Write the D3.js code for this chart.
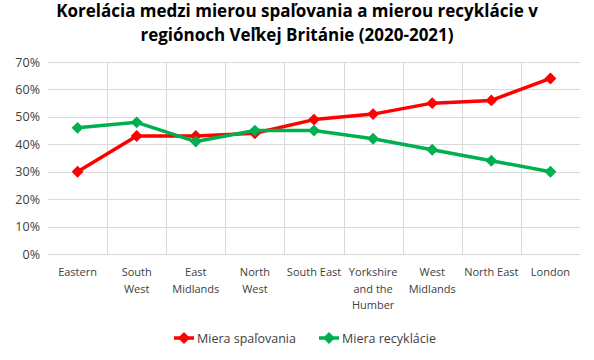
<!DOCTYPE html>
<html><head><meta charset="utf-8">
<script src="https://cdn.jsdelivr.net/npm/d3@7"></script>
<style>body{margin:0;background:#fff}svg{display:block}</style>
</head><body>
<svg id="c" width="594" height="360"></svg>
<script>
const categories = [["Eastern"],["South","West"],["East","Midlands"],["North","West"],["South East"],["Yorkshire","and the","Humber"],["West","Midlands"],["North East"],["London"]];
const incineration = [0.30,0.43,0.43,0.44,0.49,0.51,0.55,0.56,0.64];
const recycling = [0.46,0.48,0.41,0.45,0.45,0.42,0.38,0.34,0.30];
const yTicks = [0,0.1,0.2,0.3,0.4,0.5,0.6,0.7];
const seriesNames = ["Miera spaľovania","Miera recyklácie"];
const colors = ["#ff0000","#00b050"];
const titleLines = ["Korelácia medzi mierou spaľovania a mierou recyklácie v","regiónoch Veľkej Británie (2020-2021)"];

const svg = d3.select("#c");
const font = "'Open Sans', sans-serif";
const L=48,R=580,T=62,B=254;
const x = d3.scaleBand().domain(d3.range(categories.length)).range([L,R]);
const y = d3.scaleLinear().domain([0,0.7]).range([B,T]);

svg.selectAll(".t").data(titleLines).enter().append("text")
  .attr("x",297).attr("y",(d,i)=>17+i*24).attr("text-anchor","middle")
  .attr("font-family",font).attr("font-weight","bold").attr("font-size",17).attr("fill","#000").text(d=>d);

// grid
const g = svg.append("g");
g.selectAll(".h").data(yTicks).enter().append("line")
  .attr("x1",L).attr("x2",R).attr("y1",d=>Math.round(y(d))+0.5).attr("y2",d=>Math.round(y(d))+0.5)
  .attr("stroke","#d9d9d9").attr("stroke-width",1);
g.selectAll(".v").data(d3.range(1,categories.length)).enter().append("line")
  .attr("x1",d=>Math.round(x(d))+0.5).attr("x2",d=>Math.round(x(d))+0.5).attr("y1",T).attr("y2",B)
  .attr("stroke","#d9d9d9").attr("stroke-width",1);

// y labels
const yAxis = d3.axisLeft(y).tickValues(yTicks).tickFormat(d3.format(".0%")).tickSize(0).tickPadding(8);
const ya = svg.append("g").attr("transform",`translate(${L},0)`).call(yAxis);
ya.select(".domain").remove();
ya.selectAll("text").attr("font-family",font).attr("font-size",12.5).attr("fill","#404040");

// x labels
const xa = svg.append("g");
categories.forEach((lines,i)=>{
  const t = xa.append("text").attr("x",x(i)+x.bandwidth()/2).attr("y",276).attr("text-anchor","middle")
    .attr("font-family",font).attr("font-size",11).attr("fill","#404040");
  lines.forEach((s,j)=>t.append("tspan").attr("x",x(i)+x.bandwidth()/2).attr("dy",j?16.5:0).text(s));
});

const cx = i=>x(i)+x.bandwidth()/2;
const line = d3.line().x((d,i)=>cx(i)).y(d=>y(d));
const diamond = d3.symbol().type(d3.symbolDiamond2).size(90);
[incineration,recycling].forEach((data,k)=>{
  svg.append("path").datum(data).attr("d",line).attr("fill","none").attr("stroke",colors[k]).attr("stroke-width",3.5).attr("stroke-linejoin","round");
  svg.selectAll(".m"+k).data(data).enter().append("path")
    .attr("d",diamond).attr("transform",(d,i)=>`translate(${cx(i)},${y(d)})`).attr("fill",colors[k]);
});

// legend
const lg = svg.append("g");
const lx = [174,319];
seriesNames.forEach((n,k)=>{
  lg.append("line").attr("x1",lx[k]).attr("x2",lx[k]+20).attr("y1",338).attr("y2",338).attr("stroke",colors[k]).attr("stroke-width",3.5);
  lg.append("path").attr("d",diamond).attr("transform",`translate(${lx[k]+10},338)`).attr("fill",colors[k]);
  lg.append("text").attr("x",lx[k]+23).attr("y",342.5).attr("font-family",font).attr("font-size",12.5).attr("fill","#404040").text(n);
});
</script>
</body></html>
